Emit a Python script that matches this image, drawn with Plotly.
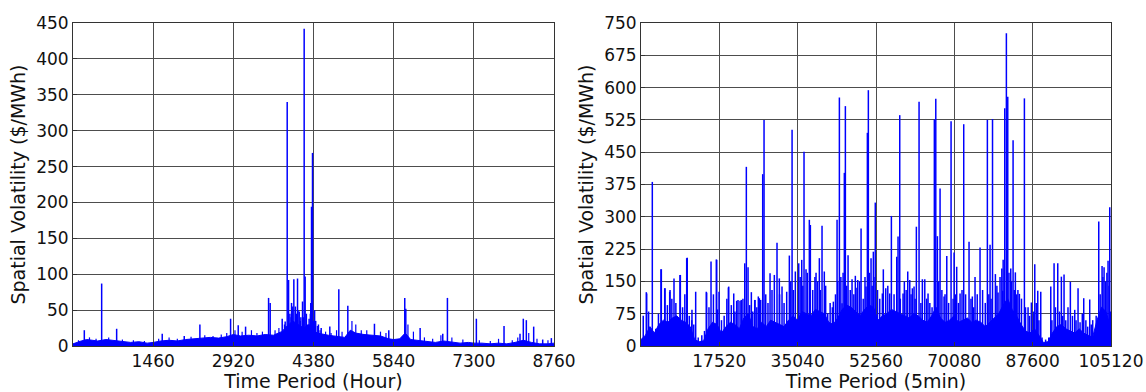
import plotly.graph_objects as go

# ---------------- Left chart: hourly ----------------
hour_base_x = [0, 60, 150, 250, 350, 450, 600, 750, 900, 1050, 1200, 1350, 1460, 1600, 1750, 1900,
               2050, 2200, 2350, 2500, 2650, 2800, 2920, 3050, 3200, 3350, 3500, 3650, 3800, 3900,
               4000, 4100, 4200, 4300, 4380, 4450, 4550, 4650, 4750, 4850, 4950, 5050, 5150, 5300,
               5450, 5600, 5750, 5840, 5950, 6050, 6150, 6300, 6450, 6600, 6750, 6900, 7050, 7200,
               7300, 7450, 7600, 7750, 7900, 8050, 8200, 8350, 8500, 8650, 8760]
hour_base_y = [3, 5, 7, 9, 8, 7, 9, 8, 6, 5, 6, 4, 5, 7, 8, 7,
               9, 10, 11, 12, 11, 13, 16, 14, 15, 14, 16, 15, 20, 28,
               35, 30, 25, 30, 22, 18, 16, 15, 14, 13, 12, 22, 18, 16,
               15, 14, 10, 9, 10, 18, 9, 8, 6, 5, 7, 5, 4, 5,
               4, 4, 3, 4, 3, 5, 8, 5, 3, 3, 4]

hour_spike_x = [206, 522, 795, 1625, 2026, 2311, 2870, 3009, 3143, 3562, 3591, 3810, 3864, 3901,
                3926, 3950, 3980, 4022, 4050, 4089, 4120, 4150, 4180, 4210, 4228, 4250, 4300,
                4330, 4344, 4362, 4400, 4420, 4470, 4520, 4677, 4841, 5005, 5490, 5751, 6042,
                6061, 6322, 6734, 6819, 7346, 7850, 8141, 8201, 8256, 8390, 8554, 8712]
hour_spike_y = [22, 87, 24, 17, 14, 30, 38, 29, 27, 67, 60, 38, 34, 340,
                92, 45, 60, 93, 55, 94, 48, 40, 62, 442, 97, 45, 38,
                60, 194, 269, 50, 35, 30, 25, 27, 79, 56, 31, 22, 67,
                52, 25, 17, 67, 38, 28, 17, 38, 36, 27, 9, 11]

hour_minor_x = [100, 300, 420, 650, 900, 1100, 1300, 1560, 1750, 1900, 2150, 2400, 2550, 2700,
                2800, 2950, 3080, 3250, 3350, 3450, 3680, 3750, 3850, 3880, 3970, 4000, 4070,
                4100, 4140, 4200, 4270, 4320, 4380, 4450, 4500, 4600, 4700, 4800, 4900, 5080,
                5150, 5250, 5350, 5600, 5700, 6100, 6200, 6400, 6550, 6700, 6900, 7100, 7400,
                7600, 7750, 8000, 8100, 8300, 8450, 8650]
hour_minor_y = [8, 12, 10, 12, 9, 8, 7, 10, 12, 10, 13, 15, 14, 16,
                18, 22, 20, 22, 18, 20, 22, 25, 30, 28, 40, 55, 45,
                50, 35, 40, 30, 45, 35, 28, 22, 20, 18, 22, 20, 35,
                30, 22, 22, 20, 18, 30, 20, 12, 10, 15, 12, 9, 8,
                7, 10, 8, 12, 18, 10, 8]

# ---------------- Right chart: 5-minute ----------------
min_base_x = [0, 1000, 2000, 3000, 4000, 5000, 6000, 7000, 8000, 9000, 10000, 11000, 12000, 13000,
              14000, 15000, 16000, 17000, 18000, 19000, 20000, 21000, 22000, 23000, 24000, 25000,
              26000, 27000, 28000, 29000, 30000, 31000, 32000, 33000, 34000, 35000, 36000, 37000,
              38000, 39000, 40000, 41000, 42000, 43000, 44000, 45000, 46000, 47000, 48000, 49000,
              50000, 51000, 52000, 53000, 54000, 55000, 56000, 57000, 58000, 59000, 60000, 61000,
              62000, 63000, 64000, 65000, 66000, 67000, 68000, 69000, 70000, 71000, 72000, 73000,
              74000, 75000, 76000, 77000, 78000, 79000, 80000, 81000, 82000, 83000, 84000, 85000,
              86000, 87000, 88000, 89000, 90000, 91000, 92000, 93000, 94000, 95000, 96000, 97000,
              98000, 99000, 100000, 101000, 102000, 103000, 104000, 105120]
min_base_y = [15, 25, 45, 30, 50, 60, 55, 65, 70, 60, 55, 45, 15, 10,
              12, 40, 55, 50, 30, 45, 55, 50, 40, 65, 75, 45,
              40, 55, 45, 60, 55, 50, 45, 60, 70, 60, 80, 75,
              70, 85, 80, 75, 55, 50, 65, 85, 95, 90, 80, 70,
              85, 95, 90, 60, 70, 75, 85, 80, 75, 70, 65, 75,
              70, 60, 55, 70, 90, 65, 55, 60, 70, 55, 60, 65,
              55, 60, 55, 45, 55, 65, 75, 95, 110, 85, 70, 50,
              35, 30, 40, 25, 8, 10, 30, 45, 50, 40, 35, 30,
              40, 30, 25, 20, 60, 90, 80, 40]

min_spike_x = [1190, 1270, 2530, 4470, 4550, 5300, 5370, 6420, 6490, 7380, 8720, 8800, 10220, 10350,
               11340, 11400, 12230, 14600, 14690, 15660, 16850, 16930, 17450, 19540, 19620, 20740,
               21400, 21700, 22150, 22440, 23200, 23560, 23940, 24680, 25430, 25500, 26240, 26470,
               26770, 27220, 27520, 28860, 29820, 30420, 30940, 31540, 32590, 33180, 33790, 34520,
               35280, 35950, 36460, 36910, 37650, 37880, 38410, 39150, 39890, 40490, 41000, 41760,
               43020, 43850, 44370, 44960, 45480, 45710, 46310, 47200, 47940, 48480, 49220, 50330,
               50630, 50850, 51450, 51970, 52400, 53980, 54200, 54740, 55630, 56000, 57200, 57490,
               57870, 58610, 59660, 60110, 60690, 61070, 61590, 62190, 62930, 63470, 64200, 65610,
               65930, 66290, 66890, 67780, 68390, 69350, 70020, 70610, 71360, 72180, 73370, 74110,
               74710, 75830, 77470, 78070, 78620, 79260, 79860, 80910, 81350, 81720, 82030, 82700,
               83220, 83730, 84630, 85750, 86570, 87310, 88070, 88740, 89410, 91650, 92390, 93210,
               94020, 94620, 96030, 97010, 97750, 99020, 100360, 101030, 102380, 103120, 103570,
               104460, 104840]
min_spike_y = [125, 122, 381, 178, 178, 134, 134, 126, 130, 157, 165, 165, 204, 205,
               60, 84, 126, 126, 124, 196, 201, 200, 126, 136, 138, 122,
               105, 107, 105, 107, 192, 416, 183, 125, 107, 107, 115, 111,
               107, 399, 525, 169, 165, 240, 157, 138, 126, 210, 502, 173,
               192, 200, 451, 178, 293, 281, 130, 170, 204, 279, 173, 76,
               103, 293, 577, 99, 402, 557, 211, 155, 163, 153, 273, 138,
               495, 594, 204, 219, 333, 122, 178, 134, 122, 302, 207, 254,
               536, 122, 173, 153, 134, 138, 277, 567, 155, 155, 122, 526,
               574, 255, 366, 115, 209, 522, 217, 184, 122, 515, 242, 115,
               160, 229, 525, 235, 527, 167, 124, 128, 552, 726, 579, 180,
               478, 171, 121, 575, 90, 101, 190, 128, 126, 138, 192, 192,
               161, 166, 149, 84, 134, 111, 108, 60, 289, 186, 183,
               198, 322]

min_minor_x = [500, 1700, 3300, 3900, 5900, 6900, 7800, 9300, 9800, 10800, 11800, 12800, 13600,
               14200, 15200, 16200, 17100, 18000, 18600, 19200, 20200, 21000, 22800, 24300, 25000,
               25900, 27900, 28400, 29300, 31000, 32000, 33500, 34100, 35600, 36200, 37200, 38900,
               39500, 40100, 41300, 42300, 42800, 43500, 44000, 44700, 45200, 46000, 46800, 47600,
               48100, 48900, 49700, 50100, 51100, 51700, 52100, 52900, 53400, 55200, 56600, 58000,
               58900, 59300, 60400, 61300, 62600, 63900, 64600, 65100, 66600, 67300, 68000, 68800,
               69800, 70300, 71000, 71800, 72600, 73800, 74400, 75200, 76400, 77000, 77800, 78300,
               79600, 80300, 80700, 81000, 82300, 82900, 83500, 84000, 84300, 85100, 86000, 86900,
               87800, 88400, 89000, 89700, 90500, 91200, 91900, 92700, 93600, 94300, 95000, 95500,
               96500, 97300, 98200, 98700, 99500, 99900, 100700, 101500, 101800, 102700, 103300,
               103900, 104200, 104700, 105000]
min_minor_y = [70, 80, 40, 75, 95, 110, 100, 90, 120, 70, 50, 20, 25,
               35, 90, 120, 85, 60, 70, 110, 95, 80, 110, 95, 80,
               90, 120, 100, 130, 120, 100, 150, 130, 160, 140, 170, 160,
               150, 130, 140, 100, 90, 120, 150, 160, 170, 140, 130, 120,
               135, 150, 110, 160, 170, 140, 160, 130, 110, 140, 120, 110,
               150, 130, 120, 110, 100, 110, 100, 90, 150, 130, 120, 100,
               110, 120, 100, 130, 120, 110, 90, 120, 130, 100, 120, 110,
               140, 160, 180, 200, 170, 150, 130, 120, 130, 110, 90, 70,
               80, 100, 60, 20, 15, 20, 60, 90, 80, 70, 60, 90,
               70, 60, 55, 75, 60, 45, 50, 30, 70, 120, 160,
               150, 170, 140, 80]

hour_ticks = [1460, 2920, 4380, 5840, 7300, 8760]
hour_yticks = [0, 50, 100, 150, 200, 250, 300, 350, 400, 450]
min_ticks = [17520, 35040, 52560, 70080, 87600, 105120]
min_yticks = [0, 75, 150, 225, 300, 375, 450, 525, 600, 675, 750]


def stems(xs, ys):
    sx, sy = [], []
    for x, y in zip(xs, ys):
        sx += [x, x, None]
        sy += [0, y, None]
    return sx, sy


BLUE = "#0000ff"
fig = go.Figure()

fig.add_trace(go.Scatter(x=hour_base_x, y=hour_base_y, mode="lines", fill="tozeroy",
                         fillcolor=BLUE, line=dict(color=BLUE, width=1),
                         xaxis="x", yaxis="y", showlegend=False, hoverinfo="skip"))
sx, sy = stems(hour_minor_x, hour_minor_y)
fig.add_trace(go.Scatter(x=sx, y=sy, mode="lines", line=dict(color=BLUE, width=1.2),
                         xaxis="x", yaxis="y", showlegend=False))
sx, sy = stems(hour_spike_x, hour_spike_y)
fig.add_trace(go.Scatter(x=sx, y=sy, mode="lines", line=dict(color=BLUE, width=1.5),
                         xaxis="x", yaxis="y", showlegend=False))

fig.add_trace(go.Scatter(x=min_base_x, y=min_base_y, mode="lines", fill="tozeroy",
                         fillcolor=BLUE, line=dict(color=BLUE, width=1),
                         xaxis="x2", yaxis="y2", showlegend=False, hoverinfo="skip"))
sx, sy = stems(min_minor_x, min_minor_y)
fig.add_trace(go.Scatter(x=sx, y=sy, mode="lines", line=dict(color=BLUE, width=1.5),
                         xaxis="x2", yaxis="y2", showlegend=False))
sx, sy = stems(min_spike_x, min_spike_y)
fig.add_trace(go.Scatter(x=sx, y=sy, mode="lines", line=dict(color=BLUE, width=1.5),
                         xaxis="x2", yaxis="y2", showlegend=False))

FONT = "DejaVu Sans"
GRID = "#4d4d4d"
TICK_SIZE = 17
TITLE_SIZE = 19
common_axis = dict(showgrid=True, gridcolor=GRID, gridwidth=1, showline=True,
                   linecolor="#333333", linewidth=1, mirror=True, zeroline=False,
                   ticks="inside", ticklen=4, tickcolor="#333333", automargin=False,
                   tickfont=dict(family=FONT, size=TICK_SIZE, color="#111111"))

ydom = [46 / 392, 369 / 392]
fig.update_layout(
    template="none",
    width=1146, height=392,
    margin=dict(l=0, r=0, t=0, b=0, pad=0),
    paper_bgcolor="white", plot_bgcolor="white",
    font=dict(family=FONT, color="#111111"),
    showlegend=False,
    xaxis=dict(domain=[73 / 1146, 554 / 1146], range=[0, 8760], tickmode="array",
               tickvals=hour_ticks, ticktext=[str(v) for v in hour_ticks],
               title=dict(text="Time Period (Hour)", font=dict(family=FONT, size=TITLE_SIZE), standoff=3),
               anchor="y", **common_axis),
    yaxis=dict(domain=ydom, range=[0, 450], tickmode="array",
               tickvals=hour_yticks, ticktext=[str(v) for v in hour_yticks],
               title=dict(text="Spatial Volatility ($/MWh)", font=dict(family=FONT, size=TITLE_SIZE), standoff=5),
               anchor="x", **common_axis),
    xaxis2=dict(domain=[641 / 1146, 1111 / 1146], range=[0, 105120], tickmode="array",
                tickvals=min_ticks, ticktext=[str(v) for v in min_ticks],
                title=dict(text="Time Period (5min)", font=dict(family=FONT, size=TITLE_SIZE), standoff=3),
                anchor="y2", **common_axis),
    yaxis2=dict(domain=ydom, range=[0, 750], tickmode="array",
                tickvals=min_yticks, ticktext=[str(v) for v in min_yticks],
                title=dict(text="Spatial Volatility ($/MWh)", font=dict(family=FONT, size=TITLE_SIZE), standoff=5),
                anchor="x2", **common_axis),
)

fig.write_html("out.html")
